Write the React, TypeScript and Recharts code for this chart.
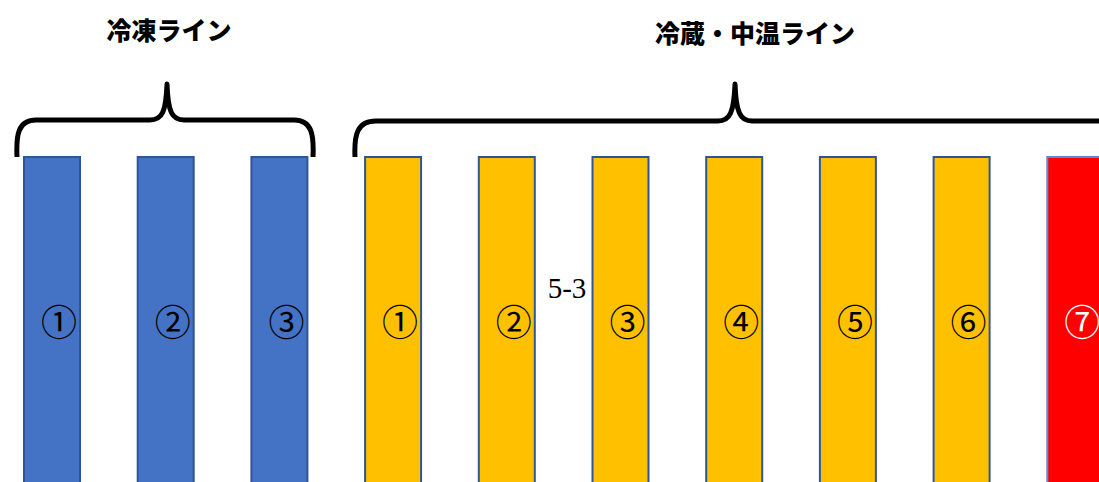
import { BarChart, Bar, XAxis, YAxis, Cell, LabelList } from "recharts"

// 10 lanes, all shown as full-height columns
const lanes = ["冷凍1", "冷凍2", "冷凍3", "冷蔵1", "冷蔵2", "冷蔵3", "冷蔵4", "冷蔵5", "冷蔵6", "冷蔵7"]
const laneLabels = ["①", "②", "③", "①", "②", "③", "④", "⑤", "⑥", "⑦"]
const laneType = ["frozen", "frozen", "frozen", "chilled", "chilled", "chilled", "chilled", "chilled", "chilled", "alert"]
const laneValues = [1, 1, 1, 1, 1, 1, 1, 1, 1, 1]
const groupTitles = ["冷凍ライン", "冷蔵・中温ライン"]
const gapNote = "5-3"

const data = lanes.map((name, i) => ({ name, value: laneValues[i], label: laneLabels[i], type: laneType[i] }))

const fills: Record<string, string> = { frozen: "#4472C4", chilled: "#FFC000", alert: "#FF0000" }
const strokes: Record<string, string> = { frozen: "#2F5597", chilled: "#2F5597", alert: "#5B8BD6" }

const serif = '"DejaVu Serif", "Liberation Serif", "Noto Sans CJK JP", serif'
const sans = '"Noto Sans CJK JP", sans-serif'

const renderLabel = (props: any) => {
  const { x, y, width, height, index } = props
  const d = data[index]
  return (
    <text
      x={Number(x) + Number(width) / 2 + 7}
      y={Number(y) + Number(height) / 2}
      textAnchor="middle"
      dominantBaseline="central"
      fontFamily={serif}
      fontSize={36}
      fill={d.type === "alert" ? "#ffffff" : "#000000"}
    >
      {d.label}
    </text>
  )
}

export default function App() {
  return (
    <div style={{ position: "absolute", left: 0, top: 0, width: 1099, height: 482, overflow: "hidden", background: "#fff" }}>
      <div style={{ position: "absolute", left: -5, top: 0 }}>
        <BarChart width={1137} height={489} data={data} margin={{ top: 157, right: 0, left: 0, bottom: 0 }} barCategoryGap={0}>
          <XAxis dataKey="name" hide />
          <YAxis hide domain={[0, 1]} />
          <Bar dataKey="value" barSize={56} isAnimationActive={false} strokeWidth={2}>
            {data.map((d) => (
              <Cell key={d.name} fill={fills[d.type]} stroke={strokes[d.type]} />
            ))}
            <LabelList dataKey="label" content={renderLabel} />
          </Bar>
        </BarChart>
      </div>

      <svg width={1099} height={482} style={{ position: "absolute", left: 0, top: 0, pointerEvents: "none" }}>
        <g fill="none" stroke="#000" strokeWidth={5} strokeLinejoin="round">
          <path d="M 17 157 C 16 135, 18 120, 36 120 L 150 120 C 162 120, 166 112, 167 84 C 168 112, 172 120, 184 120 L 294 120 C 312 120, 314 135, 313 157" />
          <path d="M 355 157 C 354 135, 357 121, 376 121 L 718 121 C 730 121, 734 112, 735 84 C 736 112, 740 121, 752 121 L 1110 121" />
        </g>
        <text x={169} y={29} textAnchor="middle" dominantBaseline="central" fontFamily={sans} fontWeight={900} fontSize={25} fill="#000">
          {groupTitles[0]}
        </text>
        <text x={755} y={32} textAnchor="middle" dominantBaseline="central" fontFamily={sans} fontWeight={900} fontSize={25} fill="#000">
          {groupTitles[1]}
        </text>
        <text x={567} y={288} textAnchor="middle" dominantBaseline="central" fontFamily='"Liberation Serif", serif' fontSize={29} fill="#000">
          {gapNote}
        </text>
      </svg>
    </div>
  )
}
